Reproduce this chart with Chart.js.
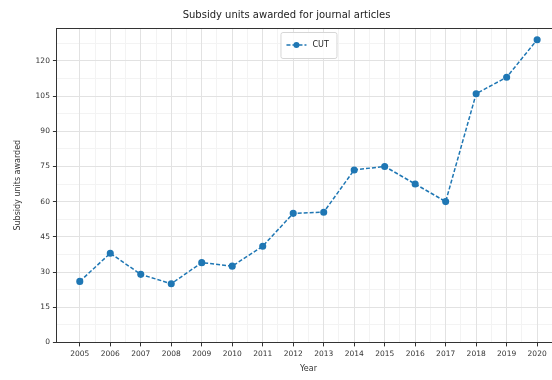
<!DOCTYPE html>
<html lang="en">
<head>
<meta charset="utf-8">
<title>Subsidy units awarded</title>
<script src="https://cdn.jsdelivr.net/npm/chart.js"></script>
<style>
    body {
        margin: 0;
        background: #fff;
        overflow: hidden;
        width: 552px;
        height: 380px;
    }
    #wrap {
        width: 575px;
        height: 380px;
    }
</style>
</head>
<body>
<div id="wrap"><canvas id="chart" width="575" height="380"></canvas></div>
<script>
    const years = [2005, 2006, 2007, 2008, 2009, 2010, 2011, 2012, 2013, 2014, 2015, 2016, 2017, 2018, 2019, 2020];
    const cutUnits = [26, 38, 29, 25, 34, 32.5, 41, 55, 55.5, 73.5, 75, 67.5, 60, 106, 113, 129];
    const yTicks = [0, 15, 30, 45, 60, 75, 90, 105, 120];
    const seriesLabel = 'CUT';

    const blue = '#1f77b4';
    const font = 'DejaVu Sans';

    // minor grid positions, halfway between the major ticks
    const xMinor = years.slice(1).map((y, i) => (y + years[i]) / 2);
    const yMinor = yTicks.slice(1).map((v, i) => (v + yTicks[i]) / 2).concat([yTicks[yTicks.length - 1] + 7.5]);

    // legend box drawn inside the plot, upper centre
    const innerLegend = {
        id: 'innerLegend',
        afterDraw(chart) {
            const ctx = chart.ctx;
            const area = chart.chartArea;
            const w = 56, h = 26;
            const x = (area.left + area.right) / 2 - w / 2;
            const y = area.top + 4;
            ctx.save();
            ctx.fillStyle = 'rgba(255,255,255,0.85)';
            ctx.strokeStyle = '#d6d6d6';
            ctx.lineWidth = 1;
            ctx.beginPath();
            ctx.roundRect(x + 0.5, y + 0.5, w, h, 2);
            ctx.fill();
            ctx.stroke();
            ctx.strokeStyle = blue;
            ctx.lineWidth = 1.5;
            ctx.setLineDash([4, 2]);
            ctx.beginPath();
            ctx.moveTo(x + 6, y + h / 2);
            ctx.lineTo(x + 26, y + h / 2);
            ctx.stroke();
            ctx.setLineDash([]);
            ctx.fillStyle = blue;
            ctx.beginPath();
            ctx.arc(x + 16, y + h / 2, 3, 0, Math.PI * 2);
            ctx.fill();
            ctx.fillStyle = '#222';
            ctx.font = '8px "' + font + '"';
            ctx.textBaseline = 'middle';
            ctx.fillText(seriesLabel, x + 32, y + h / 2);
            ctx.restore();
        }
    };

    new Chart(document.getElementById('chart'), {
        type: 'line',
        data: {
            datasets: [{
                label: seriesLabel,
                data: years.map((yr, i) => ({ x: yr, y: cutUnits[i] })),
                borderColor: blue,
                backgroundColor: blue,
                borderWidth: 1.5,
                borderDash: [4, 2],
                pointRadius: 2.8,
                pointBackgroundColor: blue,
                pointBorderColor: blue,
                tension: 0,
                fill: false
            }]
        },
        options: {
            responsive: false,
            animation: false,
            layout: {
                padding: { left: 13, right: 15, top: 3, bottom: 6 }
            },
            plugins: {
                legend: { display: false },
                tooltip: { enabled: false },
                title: {
                    display: true,
                    text: 'Subsidy units awarded for journal articles',
                    color: '#222',
                    font: { family: font, size: 10, weight: 'normal' },
                    padding: { top: 6, bottom: 7 }
                }
            },
            scales: {
                xm: {
                    type: 'linear',
                    position: 'bottom',
                    min: 2004.25,
                    max: 2020.75,
                    afterBuildTicks: s => { s.ticks = xMinor.map(v => ({ value: v })); },
                    afterFit: s => { s.height = 0; },
                    ticks: { display: false },
                    border: { display: false },
                    grid: { color: '#f3f3f3', drawTicks: false }
                },
                ym: {
                    type: 'linear',
                    position: 'left',
                    min: 0,
                    max: 134,
                    afterBuildTicks: s => { s.ticks = yMinor.map(v => ({ value: v })); },
                    afterFit: s => { s.width = 0; },
                    ticks: { display: false },
                    border: { display: false },
                    grid: { color: '#f3f3f3', drawTicks: false }
                },
                x: {
                    type: 'linear',
                    min: 2004.25,
                    max: 2020.75,
                    afterBuildTicks: s => { s.ticks = years.map(v => ({ value: v })); },
                    ticks: {
                        color: '#333',
                        font: { family: font, size: 7.5 },
                        maxRotation: 0,
                        autoSkip: false,
                        padding: 3,
                        callback: v => String(v)
                    },
                    border: { display: true, color: '#333', width: 1 },
                    grid: { color: '#e2e2e2', tickColor: '#333', tickLength: 4 },
                    title: {
                        display: true,
                        text: 'Year',
                        color: '#333',
                        font: { family: font, size: 8 },
                        padding: { top: 3, bottom: 0 }
                    }
                },
                y: {
                    type: 'linear',
                    min: 0,
                    max: 134,
                    afterBuildTicks: s => { s.ticks = yTicks.map(v => ({ value: v })); },
                    ticks: {
                        color: '#333',
                        font: { family: font, size: 7.5 },
                        padding: 3
                    },
                    border: { display: true, color: '#333', width: 1 },
                    grid: { color: '#e2e2e2', tickColor: '#333', tickLength: 4 },
                    title: {
                        display: true,
                        text: 'Subsidy units awarded',
                        color: '#333',
                        font: { family: font, size: 8 },
                        padding: { top: 0, bottom: 10 }
                    }
                }
            }
        },
        plugins: [innerLegend, {
            id: 'topSpine',
            afterDraw(chart) {
                const ctx = chart.ctx, a = chart.chartArea;
                ctx.save();
                ctx.strokeStyle = '#333';
                ctx.lineWidth = 1;
                ctx.beginPath();
                ctx.moveTo(a.left, a.top + 0.5);
                ctx.lineTo(a.right, a.top + 0.5);
                ctx.stroke();
                ctx.restore();
            }
        }]
    });
</script>
</body>
</html>
